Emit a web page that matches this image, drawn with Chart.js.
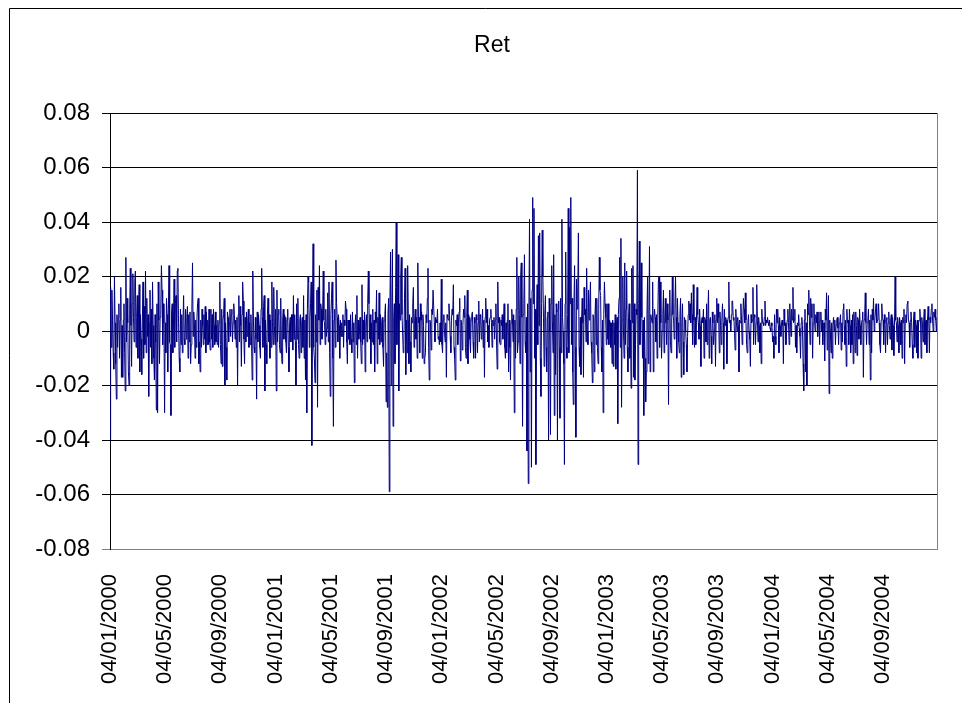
<!DOCTYPE html>
<html>
<head>
<meta charset="utf-8">
<script src="https://cdn.jsdelivr.net/npm/chart.js@4/dist/chart.umd.min.js"></script>
<style>
html,body{margin:0;padding:0;background:#fff;}
#c{display:block;}
</style>
</head>
<body>
<canvas id="c" width="962" height="703"></canvas>
<script>
const chartTitle = 'Ret';
const tickLabels = ['04/01/2000','04/05/2000','04/09/2000','04/01/2001','04/05/2001','04/09/2001','04/01/2002','04/05/2002','04/09/2002','04/01/2003','04/05/2003','04/09/2003','04/01/2004','04/05/2004','04/09/2004'];
const tickEvery = 87;
const yTicks = [-0.08,-0.06,-0.04,-0.02,0,0.02,0.04,0.06,0.08];

const ret2000 = [
-.040,.016,-.006,.015,.004,-.008,-.014,.020,.003,-.012,
-.025,.006,-.006,.005,.010,-.010,.004,.016,-.017,.002,
-.017,.004,.010,-.008,-.022,.027,-.004,.012,.003,-.015,
-.020,.008,.023,.002,-.013,.010,.021,.005,-.004,.018,
.022,-.006,.005,.013,-.010,.008,.017,-.015,.006,-.003,
-.016,.004,.018,-.010,.009,-.005,.022,-.008,.012,-.002,
.006,-.024,.003,.015,-.006,.008,-.012,.018,.002,-.010,
-.018,.006,-.004,-.029,.010,-.030,.018,.004,-.012,.005,
.008,.024,.015,-.005,.010,.003,-.030,.003,-.008,.012,
.006,-.015,.008,.024,-.004,-.005,-.031,.007,.010,-.008,
.002,.019,-.006,.010,.013,-.004,.022,.023,.003,-.010,
-.015,.008,-.005,.006,-.008,.004,.013,-.003,-.005,.008,
-.003,.005,.009,-.010,.006,-.004,.007,-.012,-.005,.008,
.025,-.002,.007,.003,-.010,.004,-.006,.005,.010,.012,
-.012,-.004,-.015,.004,-.006,.008,.002,-.005,.006,-.003,
.009,-.008,.007,-.005,.004,-.005,.008,-.004,-.007,.008,
-.003,.006,-.006,.008,.002,-.005,.007,-.004,.002,-.005,
.004,-.006,.003,.018,-.005,-.012,.008,-.013,.004,.006,
.012,-.020,.003,-.006,-.018,.007,.005,-.004,.003,.008,
-.002,.006,.008,-.004,.003,.010,.006,-.003,.004,-.006,
.005,-.020,.006,.013,-.004,.009,.002,-.013,.006,.018,
.011,-.003,-.012,.005,-.004,.007,-.002,.004,.008,-.006,
.003,-.005,.006,-.004,-.018,.022,.004,-.006,-.008,.005,
-.003,-.025,.007,-.004,.006,.002,-.006,-.010,.008,.023,
.005,-.006,.009,.013,-.022,.004,-.005,-.012,.006,.012,
-.004,.006,-.010,.004,-.006,.018,.003,-.005,.016
];

const ret2001 = [
.002,-.005,.008,-.022,.015,-.004,.006,.008,-.005,-.008,
.012,-.006,-.012,.004,.008,-.003,.006,.005,-.004,-.008,
.004,.008,-.006,-.015,.003,.005,-.004,.006,.006,-.007,
.013,-.003,.006,-.004,-.020,.010,-.003,.012,-.005,-.010,
.004,.006,-.008,.003,.005,-.006,.013,-.010,.004,-.018,
.006,-.030,.008,.020,.018,-.006,.004,.010,.018,-.042,
.008,.032,-.006,-.010,-.019,.006,-.004,.015,-.028,.016,
.004,.024,-.005,.010,.008,-.003,.006,.022,.004,.003,
-.005,.008,-.002,.001,.014,-.004,.018,-.008,-.024,.006,
.012,.018,-.010,-.035,.004,.008,-.006,.026,.010,.005,
-.004,.006,.002,-.010,.004,-.002,.003,-.002,.006,-.006,
.004,.002,.011,.008,-.004,-.012,.004,-.003,.004,-.005,
.006,-.003,-.008,.007,-.004,.003,-.019,.002,.006,-.005,
.013,-.010,.004,-.003,.000,.005,-.004,-.012,.017,-.005,
.004,-.003,.007,-.015,.003,.006,-.004,.010,.022,.010,
-.003,.006,-.012,.003,-.004,.008,-.005,.004,-.015,.007,
.003,.015,-.012,.005,-.003,.014,-.005,.006,-.004,.003,
.005,-.006,-.013,.004,.006,.010,-.026,-.008,-.028,.006,
.012,-.059,.010,.029,-.020,.008,.030,-.035,.005,.010,
-.012,.016,.040,-.005,.006,.028,-.022,.010,.004,.020,
.027,.006,.000,-.008,-.005,.012,.023,-.016,.004,-.008,
.024,.004,-.012,.006,-.004,-.015,.005,.003,.010,.016,
-.006,.004,.008,-.003,.005,-.010,.025,.003,.005,-.008,
.010,.004,.007,-.010,.006,.002,-.012,-.010,-.008,.006,
.003,.012,.023,-.006,-.018,.004,.003,-.007,.008,.006,
.015,.015,.003,-.004,.005,.004,.003,.008,-.003,-.002,
-.005
];

const ret2002 = [
.003,-.004,.019,-.005,-.008,.004,.006,.000,-.004,.003,
-.017,.006,.005,.004,.010,.006,-.002,-.008,.004,.008,
.006,.017,-.006,-.010,-.018,.004,.002,.006,-.005,.003,
.007,.012,-.011,.004,.003,-.007,.002,.008,.005,.013,
-.006,-.010,.005,.015,-.012,.006,.005,-.003,-.008,.004,
.006,.007,-.004,-.010,.005,.003,-.010,.006,.004,-.008,
.003,.011,-.004,.006,.005,-.003,.002,.008,-.006,.004,
-.017,.005,.012,.003,.008,-.004,.002,-.006,.004,.005,
.008,.003,-.006,.004,.002,.005,-.003,.004,.010,-.004,
-.014,.018,.003,.005,-.004,-.005,.004,.002,.006,-.003,
.004,.010,-.006,-.010,.003,-.008,.004,.010,-.015,.004,
-.006,-.018,.003,.008,.005,-.004,.006,-.030,.004,-.010,
.008,.027,-.008,-.004,.020,.006,-.012,.020,.025,.005,
-.035,.006,.010,.028,-.004,-.008,.005,-.044,.010,-.056,
.008,.041,-.015,.012,-.050,.015,.049,.010,.045,-.010,
.008,-.049,.004,.017,-.005,.035,.002,.036,-.010,-.024,
.010,.037,.020,.005,-.013,.006,.013,-.006,-.015,.005,
.007,-.040,.012,.000,-.038,.010,.024,.004,-.008,.028,
-.031,.006,-.016,.010,.007,-.040,.008,.011,-.006,-.032,
.012,-.008,.041,.005,.000,-.012,-.049,.010,.029,-.006,
-.010,.006,.045,-.008,.038,.010,.049,-.005,.012,-.015,
-.027,.010,.024,-.006,-.039,.019,.008,.015,.036,-.006,
-.013,.005,-.016,.004,.012,.003,-.017,.016,.006,.008,
-.004,.023,.000,-.005,.015,.004,.010,.018,-.004,-.008,
-.019,.006,.005,-.015,.004,.012,-.005,.012,-.006,-.012,
.008,.027,.015,.013,-.006,-.015,.004,-.030,.006,.018,
.010
];

const ret2003 = [
.005,-.005,.010,-.003,.010,-.005,.004,.003,-.006,.003,
-.012,.004,-.013,.003,-.005,.006,-.014,.002,.005,-.034,
.006,.012,.027,-.006,.034,-.028,.004,.020,.000,-.010,
.025,-.005,.008,.022,-.006,-.015,.005,.010,-.010,.004,
-.021,.023,.003,.024,-.017,.010,-.018,-.005,.008,.006,
.059,-.049,.010,.033,-.005,.012,.025,.005,-.010,.004,
-.031,.005,-.010,-.026,-.015,.006,.020,-.012,.004,.031,
-.015,.006,.005,.003,.018,-.015,.004,.008,.005,-.004,
.006,-.010,.004,.018,.020,-.006,.018,.003,-.010,.000,
.006,.015,-.008,.004,.012,.003,-.005,.010,.004,-.027,
.006,.015,-.004,-.008,.005,.020,.006,.004,-.003,.008,
.020,.005,-.010,.012,.003,-.004,-.008,.006,.012,-.017,
.003,.010,-.004,-.016,.005,.004,.000,-.005,-.015,-.002,
.006,.011,.004,.010,.003,.014,.006,-.005,.017,.004,
-.006,.005,-.005,.004,.016,.006,.003,-.003,.008,.002,
-.013,.004,.005,.003,.008,-.010,.005,.004,-.004,.010,
-.005,.006,.015,-.010,.004,.005,-.002,-.012,.007,.003,
-.005,.000,.006,-.013,.004,.012,.003,.010,.005,-.008,
.007,.002,-.005,.004,.010,.003,-.014,.008,.002,.005,
.004,-.012,.003,.005,.018,.003,.004,.000,.006,.011,
.011,.004,.005,-.001,-.007,.008,.003,.000,.005,.002,
-.015,.004,.003,.010,.004,-.005,.003,.012,.008,.003,
.014,.004,-.005,-.008,.003,.006,.000,-.003,-.013,.006,
.003,.004,.016,-.005,.006,.005,-.005,.003,.017,.004,
-.004,.005,.002,-.008,.003,-.012,.008,.003,.003,.002,
.005,.011,.002,.004,.003,.005,.003,.002,.004,.001,
.000
];

const ret2004 = [
.003,.002,-.004,-.002,-.010,.006,-.002,-.005,.008,.003,
.008,.002,-.008,.005,.002,-.002,.003,.004,.002,-.012,
.008,.002,.003,-.005,.000,.004,.008,.003,-.005,.010,
.004,-.002,.008,.004,.016,.003,.004,.008,-.006,.002,
-.008,.003,.002,.006,.001,-.002,-.010,.003,.005,.002,
-.012,-.022,.004,.008,-.015,.003,-.020,.010,.006,.015,
.004,-.005,.012,.005,.010,-.010,.003,.010,.004,.000,
.006,.003,.007,-.002,.003,.007,-.005,.004,.007,.000,
.004,-.005,.002,.003,-.011,.008,.004,.014,-.007,.003,
.013,-.023,.004,.000,-.008,.003,-.010,.002,.005,.000,
.004,-.005,.002,.004,.005,.001,-.005,.003,.004,.006,
-.007,.003,-.004,.008,.010,.002,-.005,.004,-.013,.008,
.003,.004,-.005,.008,.002,-.008,.004,-.005,.006,-.012,
.007,.003,-.008,.007,.002,-.009,.005,.004,-.003,.008,
.002,-.005,.003,.004,.007,-.017,.004,.005,.014,.003,
-.005,.003,.004,.008,-.005,.004,-.018,.006,-.008,.008,
.004,.012,.000,.004,.007,.010,.003,.004,.005,.010,
.003,-.005,-.008,.004,.010,.005,.004,-.005,.006,.003,
-.008,.004,.005,-.005,.003,.007,.002,-.003,.004,.006,
-.007,.005,.002,-.009,.002,.020,.004,.003,-.004,.005,
.002,-.008,.005,.003,-.005,.004,-.010,.005,.003,.008,
-.012,.004,.006,.003,.010,.011,.004,.003,-.006,.004,
.007,.003,-.005,-.010,.004,.007,-.006,.004,.002,-.008,
.004,-.010,.003,.004,.008,.004,-.010,.005,.003,-.004,
.004,.008,-.005,.003,.004,-.008,.004,.009,.004,-.008,
.005,.003,.008,.010,.004,.000,.007,.005,.008,.004,
.000,.005
];

const returns = ret2000.concat(ret2001, ret2002, ret2003, ret2004);

// trading-day categories (weekdays from 04/01/2000)
const dates = [];
(function () {
  const d = new Date(Date.UTC(2000, 0, 4));
  const p = n => (n < 10 ? '0' : '') + n;
  while (dates.length < returns.length) {
    const wd = d.getUTCDay();
    if (wd !== 0 && wd !== 6) dates.push(p(d.getUTCDate()) + '/' + p(d.getUTCMonth() + 1) + '/' + d.getUTCFullYear());
    d.setUTCDate(d.getUTCDate() + 1);
  }
})();

const FONT = "'Liberation Sans', Arial, sans-serif";

const framePlugin = {
  id: 'frame',
  beforeDraw(chart) {
    const ctx = chart.ctx;
    ctx.save();
    ctx.fillStyle = '#fff';
    ctx.fillRect(0, 0, chart.width, chart.height);
    ctx.restore();
  },
  afterDraw(chart) {
    const ctx = chart.ctx, a = chart.chartArea;
    ctx.save();
    // outer chart frame
    ctx.strokeStyle = '#000';
    ctx.lineWidth = 1;
    ctx.beginPath();
    ctx.moveTo(9.5, chart.height);
    ctx.lineTo(9.5, 8.5);
    ctx.lineTo(chart.width, 8.5);
    ctx.stroke();
    // plot area right border
    ctx.strokeStyle = '#808080';
    ctx.beginPath();
    ctx.moveTo(Math.round(a.right) + 0.5, a.top);
    ctx.lineTo(Math.round(a.right) + 0.5, Math.round(a.bottom) + 0.5);
    ctx.stroke();
    // chart title
    ctx.fillStyle = '#000';
    ctx.font = "23px " + FONT;
    ctx.textAlign = 'center';
    ctx.textBaseline = 'middle';
    ctx.fillText(chartTitle, 492, 46);
    ctx.restore();
  }
};

new Chart(document.getElementById('c'), {
  type: 'line',
  data: {
    labels: dates,
    datasets: [{
      label: chartTitle,
      data: returns,
      borderColor: '#000080',
      backgroundColor: '#000080',
      borderWidth: 1,
      pointRadius: 0,
      tension: 0,
      fill: false
    }]
  },
  options: {
    responsive: false,
    animation: false,
    devicePixelRatio: 1,
    layout: { padding: { left: 0, right: 25, top: 113, bottom: 0 } },
    plugins: {
      legend: { display: false },
      tooltip: { enabled: false },
      title: { display: false }
    },
    scales: {
      x: {
        type: 'category',
        offset: false,
        grid: { display: false },
        border: { display: true, color: '#808080', width: 1 },
        ticks: {
          autoSkip: false,
          minRotation: 90,
          maxRotation: 90,
          padding: 17,
          color: '#000',
          font: { family: FONT, size: 22 },
          callback: function (val, index) {
            return index % tickEvery === 0 ? tickLabels[index / tickEvery] : null;
          }
        },
        afterFit: function (s) { s.height = 154; }
      },
      y: {
        min: yTicks[0],
        max: yTicks[yTicks.length - 1],
        afterBuildTicks: function (s) { s.ticks = yTicks.map(v => ({ value: v })); },
        grid: {
          color: function (c) { return c.tick && c.tick.value === yTicks[0] ? '#808080' : '#000'; },
          lineWidth: 1,
          tickLength: 8,
          drawTicks: true
        },
        border: { display: true, color: '#000', width: 1 },
        ticks: {
          padding: 12,
          color: '#000',
          font: { family: FONT, size: 24 },
          callback: function (v) { return String(+(+v).toFixed(2)); }
        },
        afterFit: function (s) { s.width = 110; }
      }
    }
  },
  plugins: [framePlugin]
});
</script>
</body>
</html>
